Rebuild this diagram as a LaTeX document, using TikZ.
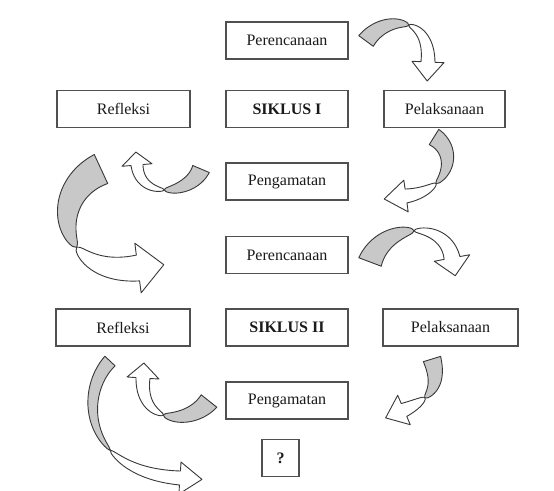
\documentclass[tikz,border=0pt]{standalone}
\usepackage{fontspec}
\setmainfont{Liberation Serif}
\definecolor{boxline}{HTML}{505050}
\definecolor{ribfill}{HTML}{C8C8C8}
\definecolor{ribline}{HTML}{383838}
\definecolor{txt}{HTML}{1A1A1A}
\tikzset{
  box/.style={draw=boxline, line width=1.2pt, fill=white, minimum height=37pt,
    inner sep=0pt, text=txt, font=\fontsize{16}{19}\selectfont},
  rib/.style={fill=ribfill, draw=ribline, line width=0.9pt, line join=round},
  ribw/.style={fill=white, draw=ribline, line width=0.9pt, line join=round},
}
\newcommand\setarr[8]{\def\Ax{#1}\def\Ay{#2}\def\Bx{#3}\def\By{#4}\def\Cx{#5}\def\Cy{#6}\def\Dx{#7}\def\Dy{#8}}
\newcommand\drawarr[5]{%
  \def\tw{#1}\def\wa{#2}\def\wb{#3}\def\hw{#4}\def\hl{#5}%
  \begin{scope}[declare function={
      bx(\x)=(1-\x)*(1-\x)*(1-\x)*\Ax+3*(1-\x)*(1-\x)*\x*\Bx+3*(1-\x)*\x*\x*\Cx+\x*\x*\x*\Dx;
      by(\x)=(1-\x)*(1-\x)*(1-\x)*\Ay+3*(1-\x)*(1-\x)*\x*\By+3*(1-\x)*\x*\x*\Cy+\x*\x*\x*\Dy;
      dx(\x)=3*(1-\x)*(1-\x)*(\Bx-\Ax)+6*(1-\x)*\x*(\Cx-\Bx)+3*\x*\x*(\Dx-\Cx);
      dy(\x)=3*(1-\x)*(1-\x)*(\By-\Ay)+6*(1-\x)*\x*(\Cy-\By)+3*\x*\x*(\Dy-\Cy);
      nx(\x)=-0.01*dy(\x)/veclen(0.01*dx(\x),0.01*dy(\x));
      ny(\x)=0.01*dx(\x)/veclen(0.01*dx(\x),0.01*dy(\x));
      wg(\x)=\wa*sqrt(abs((\tw-\x)/\tw));
      ww(\x)=\wb*sqrt(abs((\x-\tw)/(1-\tw)));
    }, samples=30]
  \pgfmathsetmacro\ex{\Dx}\pgfmathsetmacro\ey{\Dy}%
  \pgfmathsetmacro\ux{0.01*(\Dx-\Cx)/veclen(0.01*(\Dx-\Cx),0.01*(\Dy-\Cy))}%
  \pgfmathsetmacro\uy{0.01*(\Dy-\Cy)/veclen(0.01*(\Dx-\Cx),0.01*(\Dy-\Cy))}%
  \filldraw[rib] plot[domain=0:\tw] ({bx(\x)+wg(\x)*nx(\x)},{by(\x)+wg(\x)*ny(\x)})
     -- plot[domain=\tw:0] ({bx(\x)-wg(\x)*nx(\x)},{by(\x)-wg(\x)*ny(\x)}) -- cycle;
  \filldraw[ribw] plot[domain=\tw:1] ({bx(\x)+ww(\x)*nx(\x)},{by(\x)+ww(\x)*ny(\x)})
     -- ({\ex-(\wb+\hw)*\uy},{\ey+(\wb+\hw)*\ux})
     -- ({\ex+\hl*\ux},{\ey+\hl*\uy})
     -- ({\ex+(\wb+\hw)*\uy},{\ey-(\wb+\hw)*\ux})
     -- plot[domain=1:\tw] ({bx(\x)-ww(\x)*nx(\x)},{by(\x)-ww(\x)*ny(\x)}) -- cycle;
  \end{scope}}
\begin{document}
\begin{tikzpicture}[x=1pt,y=-1pt]
\useasboundingbox[fill=white] (0,0) rectangle (554,490);
% boxes
\node[box, minimum width=122pt] (per1) at (287,40.5) {Perencanaan};
\node[box, minimum width=133pt] (ref1) at (123.5,109) {Refleksi};
\node[box, minimum width=122pt, font=\fontsize{16}{19}\selectfont\bfseries] (sik1) at (287,109) {SIKLUS I};
\node[box, minimum width=121pt] (pel1) at (444.5,109) {Pelaksanaan};
\node[box, minimum width=122pt] (pen1) at (287,181.5) {Pengamatan};
\node[box, minimum width=122pt] (per2) at (287,255) {Perencanaan};
\node[box, minimum width=134pt] (ref2) at (123,327.5) {Refleksi};
\node[box, minimum width=122pt, font=\fontsize{16}{19}\selectfont\bfseries] (sik2) at (287,327.5) {SIKLUS II};
\node[box, minimum width=135pt] (pel2) at (450.5,327.5) {Pelaksanaan};
\node[box, minimum width=122pt] (pen2) at (287,400.5) {Pengamatan};
\node[box, minimum width=37pt, font=\fontsize{16}{19}\selectfont\bfseries] (q) at (280.5,458) {?};
% A: Perencanaan I -> Pelaksanaan I
\setarr{366}{41}{385}{15}{430}{15}{428}{62}
\drawarr{0.55}{9}{7}{9}{19}
% B: Pelaksanaan I -> Pengamatan I
\setarr{434}{137}{458}{152}{450}{190}{406}{196}
\drawarr{0.7}{9}{7}{9}{22}
% C: Pengamatan I -> Refleksi I
\setarr{201}{169}{190}{195}{140}{200}{137}{165}
\drawarr{0.52}{9}{6}{9}{13}
% D: Refleksi I -> Perencanaan II
\setarr{101}{169}{45}{195}{60}{278}{138}{268}
\drawarr{0.62}{16}{13}{12}{26}
% E: Perencanaan II -> Pelaksanaan II
\setarr{370}{262}{385}{222}{445}{220}{452}{258}
\drawarr{0.5}{12}{8}{10}{18}
% F: Pelaksanaan II -> Pengamatan II
\setarr{432}{359}{440}{385}{432}{398}{404}{410}
\drawarr{0.68}{9}{7}{9}{20}
% G: Pengamatan II -> Refleksi II
\setarr{209}{401}{190}{425}{140}{425}{143}{378}
\drawarr{0.55}{10}{7}{9}{15}
% H: Refleksi II -> ?
\setarr{110}{361}{78}{395}{85}{472}{180}{478}
\drawarr{0.65}{7}{7}{9}{22}
\end{tikzpicture}
\end{document}
